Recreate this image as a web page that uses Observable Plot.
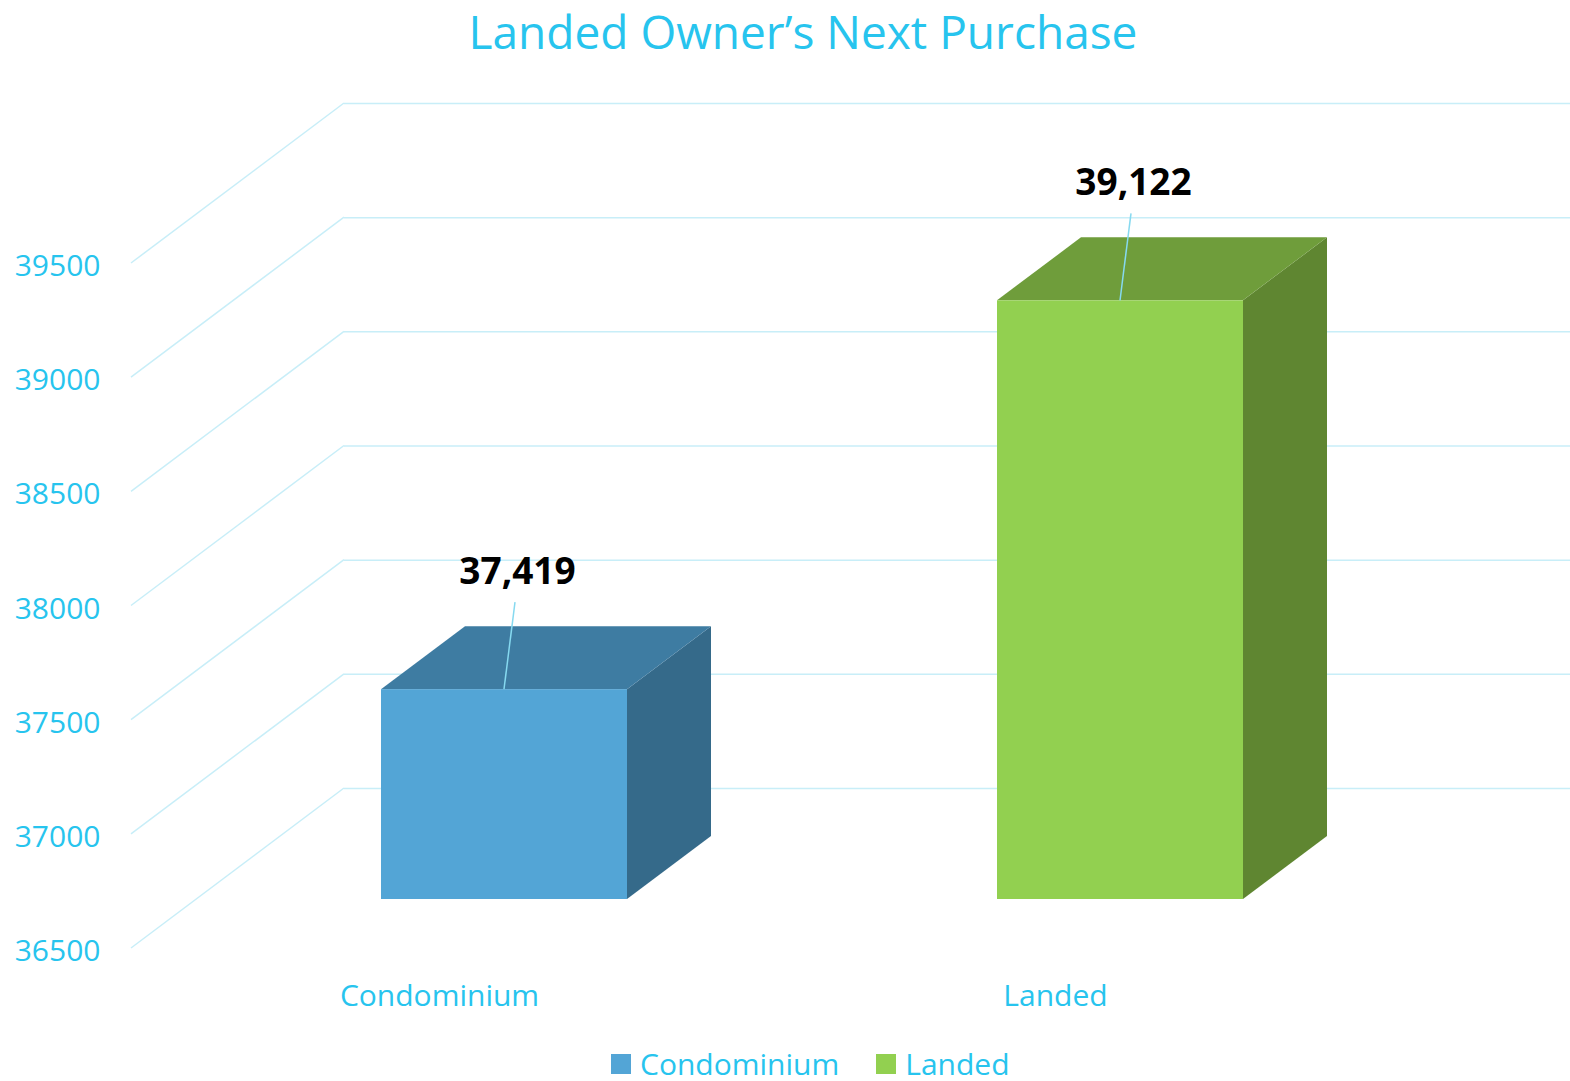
<!DOCTYPE html>
<html>
<head>
<meta charset="utf-8">
<script src="https://cdn.jsdelivr.net/npm/d3@7"></script>
<script src="https://cdn.jsdelivr.net/npm/@observablehq/plot@0.6"></script>
<style>
  html, body { margin: 0; padding: 0; background: #fff; }
  body { width: 1570px; height: 1081px; position: relative; overflow: hidden; font-family: "Open Sans", "Noto Sans", sans-serif; }
  #title { height: 60px; line-height: normal; font-size: 46px; color: #27C4EE; text-align: center; box-sizing: border-box; padding-left: 36px; width: 1570px; white-space: nowrap; overflow: visible; }
  #chart svg { display: block; }
  #legend { position: absolute; left: 611px; top: 1043px; display: flex; align-items: center; font-size: 30px; color: #27C4EE; white-space: nowrap; }
  #legend .item { display: flex; align-items: center; margin-right: 37px; }
  #legend .sw { width: 20px; height: 20px; margin-right: 9px; }
</style>
</head>
<body>
<div id="title">Landed Owner’s Next Purchase</div>
<div id="chart"></div>
<div id="legend"></div>
<script>
// ---- data ----
const categories = ["Condominium", "Landed"];
const values = [37419, 39122];
const yTicks = [36500, 37000, 37500, 38000, 38500, 39000, 39500];
const baseValue = 36500;

// ---- styles ----
const frontColors = ["#53A5D6", "#92D050"];
const topColors = ["#3E7CA2", "#6F9D3B"];
const sideColors = ["#356A8A", "#5F8631"];
const textCyan = "#27C4EE";
const gridColor = "#C8EEF8";
const leaderColor = "#86D9F0";

const data = categories.map((c, i) => ({category: c, value: values[i]}));

// pseudo-3D offsets (pixels)
const BAR = {dx: 65, dy: -49};     // bar front face relative to floor front edge
const DEPTH = {dx: 84, dy: -63};   // bar depth
const WALL = {dx: 213, dy: -160};  // back wall relative to floor front edge
const LABEL = {dx: 78, dy: -167};
const LEAD_TOP = {dx: 76, dy: -136};

function bandwidthOf(x) {
  const b = x.bandwidth;
  if (typeof b === "function") return b();
  if (typeof b === "number") return b;
  return (x(categories[1]) - x(categories[0])) * 0.4;
}

function sideWallGrid(index, scales, vals, dims) {
  const y = scales.y;
  const g = d3.create("svg:g").attr("stroke", gridColor).attr("stroke-width", 1.5).attr("fill", "none");
  for (const t of yTicks) {
    const x0 = dims.marginLeft, y0 = y(t);
    g.append("line").attr("x1", x0).attr("y1", y0).attr("x2", x0 + WALL.dx).attr("y2", y0 + WALL.dy);
  }
  return g.node();
}

function barSides(index, scales) {
  const {x, y} = scales;
  const bw = bandwidthOf(x);
  const g = d3.create("svg:g");
  data.forEach((d, i) => {
    const x0 = x(d.category) + BAR.dx, x1 = x0 + bw;
    const yt = y(d.value) + BAR.dy, yb = y(baseValue) + BAR.dy;
    g.append("polygon")
      .attr("points", [[x1, yt], [x1 + DEPTH.dx, yt + DEPTH.dy], [x1 + DEPTH.dx, yb + DEPTH.dy], [x1, yb]].join(" "))
      .attr("fill", sideColors[i]);
    g.append("polygon")
      .attr("points", [[x0, yt], [x0 + DEPTH.dx, yt + DEPTH.dy], [x1 + DEPTH.dx, yt + DEPTH.dy], [x1, yt]].join(" "))
      .attr("fill", topColors[i]);
  });
  return g.node();
}

function leaders(index, scales) {
  const {x, y} = scales;
  const bw = bandwidthOf(x);
  const g = d3.create("svg:g").attr("stroke", leaderColor).attr("stroke-width", 1.5);
  data.forEach((d) => {
    const cx = x(d.category) + bw / 2, cy = y(d.value);
    g.append("line")
      .attr("x1", cx + BAR.dx).attr("y1", cy + BAR.dy)
      .attr("x2", cx + LEAD_TOP.dx).attr("y2", cy + LEAD_TOP.dy);
  });
  return g.node();
}

const chart = Plot.plot({
  width: 1570,
  height: 975,
  marginLeft: 131,
  marginRight: 206,
  marginTop: 203,
  marginBottom: 87,
  style: {fontFamily: "'Open Sans', 'Noto Sans', sans-serif", fontSize: "30px", color: textCyan, background: "#fff", overflow: "visible"},
  x: {domain: categories, paddingInner: 0.6, paddingOuter: 0.3, tickSize: 0, tickPadding: 36, label: null},
  y: {domain: [36500, 39500], axis: null},
  color: {domain: categories, range: frontColors},
  marks: [
    Plot.ruleY(yTicks, {dx: WALL.dx, dy: WALL.dy, stroke: gridColor, strokeWidth: 1.5}),
    sideWallGrid,
    Plot.text(yTicks, {y: d => d, text: d => String(d), frameAnchor: "left", textAnchor: "end", dx: -31, dy: 3, fill: textCyan, fontSize: 30}),
    barSides,
    Plot.barY(data, {x: "category", y1: baseValue, y2: "value", fill: "category", dx: BAR.dx, dy: BAR.dy}),
    leaders,
    Plot.text(data, {x: "category", y: "value", text: d => d3.format(",")(d.value), dx: LABEL.dx, dy: LABEL.dy,
      fill: "#000", fontWeight: "bold", fontSize: 37})
  ]
});
document.getElementById("chart").appendChild(chart);

// legend
const legend = d3.select("#legend");
categories.forEach((c, i) => {
  const item = legend.append("div").attr("class", "item");
  item.append("div").attr("class", "sw").style("background", frontColors[i]);
  item.append("span").text(c);
});
</script>
</body>
</html>
